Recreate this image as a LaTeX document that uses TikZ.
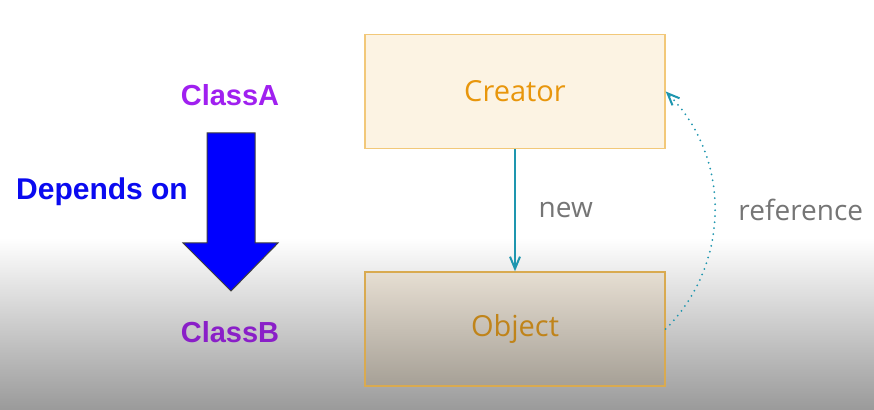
\documentclass[tikz,border=0pt]{standalone}
\usepackage{fontspec}
\setmainfont{Open Sans}
\newfontfamily\arialfont{Liberation Sans}
\usepackage{xcolor}
\usetikzlibrary{arrows.meta}

\definecolor{bggray}{RGB}{154,154,154}
\definecolor{creamfill}{RGB}{252,243,227}
\definecolor{creamline}{RGB}{242,200,121}
\definecolor{objline}{RGB}{217,170,80}
\definecolor{objtop}{RGB}{230,222,210}
\definecolor{objbottom}{RGB}{166,160,150}
\definecolor{creatortext}{RGB}{232,150,12}
\definecolor{objecttext}{RGB}{192,132,26}
\definecolor{linkteal}{RGB}{30,150,175}
\definecolor{labelgray}{RGB}{117,117,117}
\definecolor{classpurple}{RGB}{160,32,240}
\definecolor{classpurpledark}{RGB}{138,31,200}
\definecolor{dependblue}{RGB}{10,10,240}

\tikzset{
    classbox/.style={draw, line width=0.7pt, minimum width=150pt, minimum height=57pt, font=\fontsize{14.5}{16}\selectfont},
    classname/.style={font=\arialfont\bfseries\fontsize{14.5}{16}\selectfont},
    linklabel/.style={text=labelgray, font=\fontsize{14}{16}\selectfont}
}

\begin{document}
\begin{tikzpicture}[x=0.5pt, y=0.5pt]
    % Background
    \fill[white] (0,0) rectangle (874,410);
    \shade[top color=white, bottom color=bggray] (0,0) rectangle (874,172);
    \useasboundingbox (0,0) rectangle (874,410);
    % Left side
    \node[classname, text=classpurple] (classa) at (230,315) {ClassA};
    \node[classname, text=dependblue, font=\arialfont\bfseries\fontsize{15}{16}\selectfont] (depends) at (102,218) {Depends on};
    \node[classname, text=classpurpledark] (classb) at (230,78) {ClassB};
    \draw[fill=blue, draw={rgb:black,3;white,1}, line width=0.5pt] (207,277) -- (255,277) -- (255,167) -- (278,167) -- (231,119) -- (183,167) -- (207,167) -- cycle;
    % Modules
    \node[classbox, fill=creamfill, draw=creamline, text=creatortext] (creator) at (515,318.5) {Creator};
    \node[classbox, top color=objtop, bottom color=objbottom, draw=objline, text=objecttext] (object) at (515,81) {Object};
    % Links
    \draw[linkteal, line width=1pt, -{Straight Barb[length=6pt, width=5pt]}] (creator) -- (object) node[linklabel, midway, right=8pt] {new};
    \draw[linkteal, line width=1pt, line cap=round, dash pattern=on 0pt off 3pt, -{Straight Barb[length=6pt, width=5pt, line cap=butt]}] (object.east) to[out=45, in=-45] node[linklabel, pos=.5, right=8pt] {reference} (creator.east);
\end{tikzpicture}
\end{document}
